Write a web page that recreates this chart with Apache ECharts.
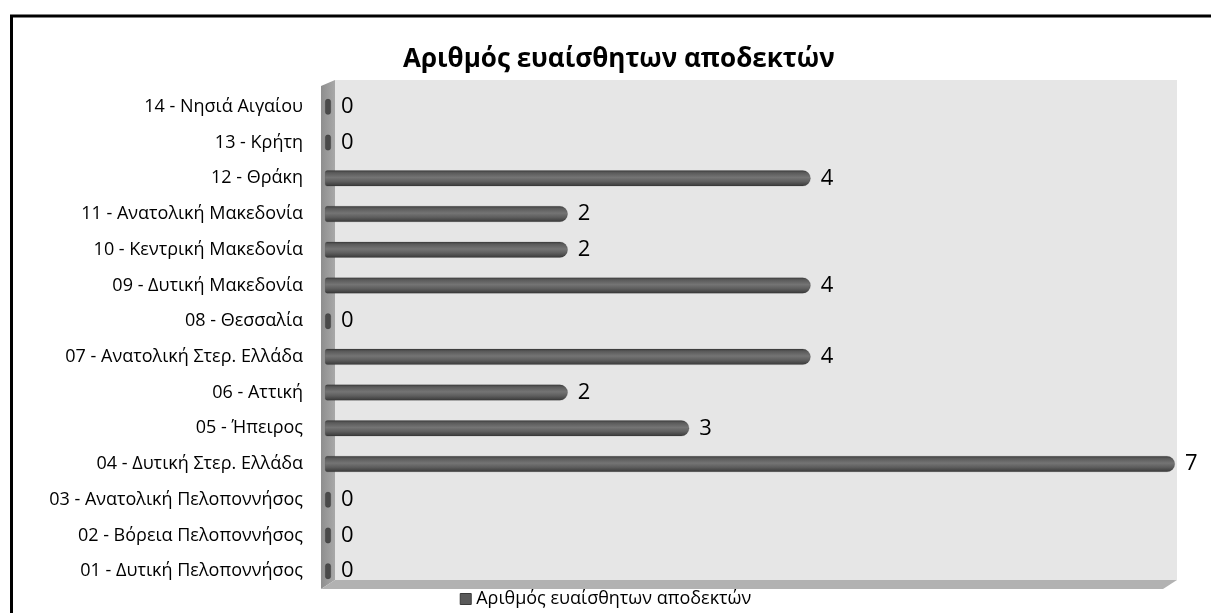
<!DOCTYPE html>
<html>
<head>
<meta charset="utf-8">
<script src="https://cdn.jsdelivr.net/npm/echarts@6/dist/echarts.min.js"></script>
<style>
  html, body { margin: 0; padding: 0; background: #fff; }
  #chart { width: 1211px; height: 613px; }
</style>
</head>
<body>
<div id="chart"></div>
<script>
// Regions (bottom to top) and receptor counts
const regions = [
  '01 - Δυτική Πελοποννήσος',
  '02 - Βόρεια Πελοποννήσος',
  '03 - Ανατολική Πελοποννήσος',
  '04 - Δυτική Στερ. Ελλάδα',
  '05 - Ήπειρος',
  '06 - Αττική',
  '07 - Ανατολική Στερ. Ελλάδα',
  '08 - Θεσσαλία',
  '09 - Δυτική Μακεδονία',
  '10 - Κεντρική Μακεδονία',
  '11 - Ανατολική Μακεδονία',
  '12 - Θράκη',
  '13 - Κρήτη',
  '14 - Νησιά Αιγαίου'
];
const receptors = [0, 0, 0, 7, 3, 2, 4, 0, 4, 2, 2, 4, 0, 0];
const seriesName = 'Αριθμός ευαίσθητων αποδεκτών';
const axisMax = 7;

const FONT = '"Open Sans", "Noto Sans", sans-serif';
const chart = echarts.init(document.getElementById('chart'), null, { renderer: 'canvas' });

// Cylinder-like shading across each bar
const barFill = new echarts.graphic.LinearGradient(0, 0, 0, 1, [
  { offset: 0, color: '#3c3c3c' },
  { offset: 0.15, color: '#5a5a5a' },
  { offset: 0.45, color: '#747474' },
  { offset: 0.7, color: '#5e5e5e' },
  { offset: 1, color: '#383838' }
]);

// Empty regions show as a small dark end cap only
const barData = receptors.map(v => v === 0
  ? { value: v, itemStyle: { borderRadius: 3, color: '#4a4a4a' } }
  : v);

chart.setOption({
  animation: false,
  backgroundColor: '#ffffff',
  title: {
    text: seriesName,
    left: 398,
    top: 42,
    textStyle: { fontFamily: FONT, fontSize: 26, fontWeight: 'bold', color: '#000' }
  },
  legend: {
    bottom: 0,
    left: 'center',
    itemWidth: 11,
    itemHeight: 11,
    itemGap: 4,
    icon: 'rect',
    textStyle: { fontFamily: FONT, fontSize: 18, color: '#000', padding: [0, 0, 0, 0] },
    data: [{ name: seriesName, itemStyle: { color: '#5a5a5a', borderColor: '#3a3a3a', borderWidth: 1 } }]
  },
  grid: { left: 325, right: 36, top: 89, bottom: 24 },
  xAxis: {
    type: 'value',
    min: 0,
    max: axisMax,
    show: false
  },
  yAxis: {
    type: 'category',
    data: regions,
    axisLine: { show: false },
    axisTick: { show: false },
    splitLine: { show: false },
    axisLabel: { fontFamily: FONT, fontSize: 18, color: '#000', margin: 22 }
  },
  series: [{
    name: seriesName,
    type: 'bar',
    data: barData,
    barWidth: 16,
    barMinHeight: 6,
    itemStyle: { color: barFill, borderRadius: [2, 8, 8, 2], borderColor: 'rgba(0,0,0,0.25)', borderWidth: 0.5 },
    label: {
      show: true,
      position: 'right',
      distance: 10,
      fontFamily: FONT,
      fontSize: 22,
      color: '#000'
    },
    z: 5
  }]
});

// 3-D box (back wall, side wall, floor) placed from the axis scales
function drawBox() {
  const x0 = chart.convertToPixel({ xAxisIndex: 0 }, 0);
  const x1 = chart.convertToPixel({ xAxisIndex: 0 }, axisMax);
  const yTopCenter = chart.convertToPixel({ yAxisIndex: 0 }, regions[regions.length - 1]);
  const yBotCenter = chart.convertToPixel({ yAxisIndex: 0 }, regions[0]);
  const band = (yBotCenter - yTopCenter) / (regions.length - 1);
  const top = yTopCenter - band / 2;
  const bottom = yBotCenter + band / 2;
  const dx = 14, dy = -9;
  const fx = x0 - 4;
  chart.setOption({
    graphic: [
      {
        type: 'rect', z: -20, silent: true,
        shape: { x: fx + dx, y: top + dy, width: (x1 + 2) - (fx + dx), height: bottom - top },
        style: { fill: '#e6e6e6' }
      },
      {
        type: 'polygon', z: -19, silent: true,
        shape: { points: [[fx, top - 3], [fx + dx, top + dy], [fx + dx, bottom + dy], [fx, bottom]] },
        style: {
          fill: new echarts.graphic.LinearGradient(0, 0, 1, 0, [
            { offset: 0, color: '#8e8e8e' }, { offset: 1, color: '#a8a8a8' }
          ])
        }
      },
      {
        type: 'polygon', z: -19, silent: true,
        shape: { points: [[fx, bottom], [fx + dx, bottom + dy], [x1 + 2, bottom + dy], [x1 + 2 - dx, bottom]] },
        style: { fill: '#b2b2b2' }
      },
      {
        type: 'rect', z: 50, silent: true,
        shape: { x: 11.5, y: 16, width: 1400, height: 800 },
        style: { fill: 'none', stroke: '#000', lineWidth: 3 }
      }
    ]
  });
}
drawBox();
</script>
</body>
</html>
